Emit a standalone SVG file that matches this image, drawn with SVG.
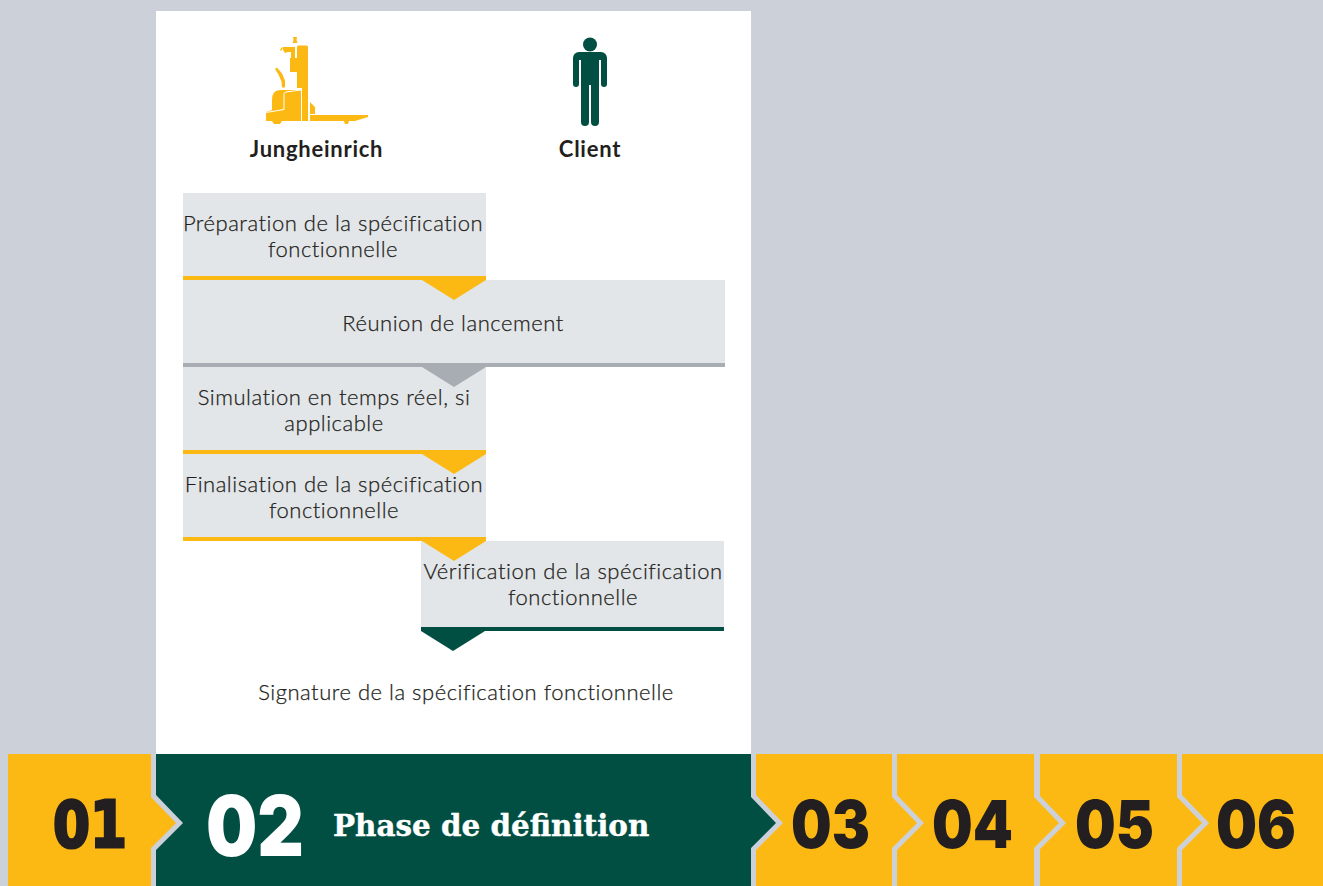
<svg xmlns="http://www.w3.org/2000/svg" width="1323" height="886" viewBox="0 0 1323 886">
<style>
.t{font-family:"Lato","Liberation Sans",sans-serif;font-size:22px;font-weight:300;fill:#231f20;stroke:#231f20;stroke-width:.25px;text-anchor:middle;letter-spacing:.52px}
.h{font-family:"Lato","Liberation Sans",sans-serif;font-size:22px;font-weight:700;fill:#231f20;text-anchor:middle;letter-spacing:.75px}
.n{font-family:"Inter","Liberation Sans",sans-serif;font-size:66px;font-weight:900;fill:#231f20}
.box{fill:#e3e6e9}
.y{fill:#fdb913}.g{fill:#a7adb3}.d{fill:#004f42}
.tile{stroke:#ccd1d9;stroke-width:10;paint-order:stroke;stroke-miterlimit:10}
</style>
<rect width="1323" height="886" fill="#ccd1d9"/>
<g id="tiles">
<polygon id="tile06" class="tile y" points="1182,754 1340,754 1340,900 1182,900"/>
<polygon id="tile05" class="tile y" points="1040,754 1177,754 1177,797 1202,823 1177,848 1177,900 1040,900"/>
<polygon id="tile04" class="tile y" points="897,754 1034,754 1034,797 1059,823 1034,848 1034,900 897,900"/>
<polygon id="tile03" class="tile y" points="756,754 892,754 892,797 917,823 892,848 892,900 756,900"/>
<polygon id="tile02" class="tile d" points="156,754 751,754 751,797 776,823 751,848 751,900 156,900"/>
<polygon id="tile01" class="tile y" points="8,754 151,754 151,797 176,823 151,848 151,900 8,900"/>
</g>
<rect id="panel" x="156" y="11" width="595" height="743" fill="#fff"/>
<g id="labels-tiles">
<text x="53" y="847" font-family="DejaVu Sans" font-weight="700" font-size="64" fill="#231f20" stroke="#231f20" stroke-width="3" textLength="74" lengthAdjust="spacingAndGlyphs">01</text>
<text class="n" x="206" y="856" textLength="98" lengthAdjust="spacingAndGlyphs" style="font-size:84px;fill:#fff">02</text>
<text x="333" y="836" font-family="DejaVu Serif" font-weight="700" font-size="29.400" fill="#fff" stroke="#fff" stroke-width=".4">Phase de définition</text>
<text class="n" x="791" y="848" textLength="79" lengthAdjust="spacingAndGlyphs">03</text>
<text class="n" x="932" y="848" textLength="81" lengthAdjust="spacingAndGlyphs">04</text>
<text class="n" x="1075" y="848" textLength="79" lengthAdjust="spacingAndGlyphs">05</text>
<text class="n" x="1216" y="848" textLength="80" lengthAdjust="spacingAndGlyphs">06</text>
</g>
<g id="jungheinrich">
<path class="y" d="M293 37h4l-.5 3 1 3h-5l1-3zM297 47q0-1.500 1.500-1.500h8q1.500 0 1.500 1.500v74h-6v-33h-5zM310 115h58v2l-13 4h-45zM310 102l5 5v7h-5zM290 58h12v14h-12zM283 47h12v11h-4v-6h-3l-3 1-2-3zM280 50l2-3 1 1-2 3zM275 69l2-1.500 5 6 3 7 0 7-3 0-.5-6-3-7zM272 110v-10q0-10 8-10h21v31h-35v-9z"/>
<path class="y" d="M272 121h10l-2 3h-6zM344 121h5l-1 3h-3z"/>
<path d="M266 112.500l18-3v-15q0-2 2-2.500l15-2" fill="none" stroke="#fff" stroke-width="1"/>
<text class="h" x="316.500" y="156.500">Jungheinrich</text>
</g>
<g id="client">
<circle class="d" cx="590" cy="44.500" r="7"/>
<path class="d" d="M579 52h22a6 6 0 0 1 6 6v26a3 3 0 0 1-6 0v-24h-2v62a4 4 0 0 1-8 0v-37h-2v37a4 4 0 0 1-8 0v-62h-2v24a3 3 0 0 1-6 0v-26a6 6 0 0 1 6-6z"/>
<text class="h" x="590" y="156.500">Client</text>
</g>
<g id="connectors"></g>
<g id="step1">
<rect class="box" x="183" y="193" width="303" height="83"/>
<text class="t" x="333" y="231">Préparation de la spécification</text>
<text class="t" x="333" y="257">fonctionnelle</text>
</g>
<g id="step2">
<rect class="box" x="183" y="280" width="542" height="83"/>
<rect class="g" x="183" y="363" width="542" height="4"/>
<text class="t" x="453" y="331">Réunion de lancement</text>
</g>
<g id="step1b">
<rect class="y" x="183" y="276" width="303" height="4"/>
<polygon class="y" points="422,280 486,280 454,300"/>
</g>
<g id="step3">
<rect class="box" x="183" y="367" width="303" height="83"/>
<rect class="y" x="183" y="450" width="303" height="4"/>
<polygon class="g" points="422,367 486,367 454,387"/>
<text class="t" x="334" y="405">Simulation en temps réel, si</text>
<text class="t" x="334" y="431">applicable</text>
</g>
<g id="step4">
<rect class="box" x="183" y="454" width="303" height="83"/>
<rect class="y" x="183" y="537" width="303" height="4"/>
<polygon class="y" points="422,454 486,454 454,474"/>
<text class="t" x="334" y="492">Finalisation de la spécification</text>
<text class="t" x="334" y="518">fonctionnelle</text>
</g>
<g id="step5">
<rect class="box" x="421" y="541" width="303" height="86"/>
<rect class="d" x="421" y="627" width="303" height="4"/>
<polygon class="y" points="422,541 486,541 454,561"/>
<polygon class="d" points="421,631 485,631 453,651"/>
<text class="t" x="573" y="579">Vérification de la spécification</text>
<text class="t" x="573" y="605">fonctionnelle</text>
</g>
<g id="step6">
<text class="t" x="466" y="700">Signature de la spécification fonctionnelle</text>
</g>
</svg>
